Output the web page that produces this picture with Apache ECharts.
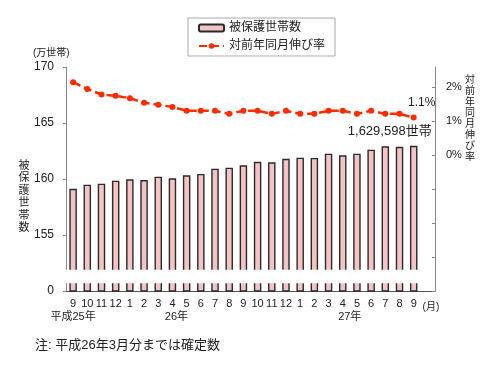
<!DOCTYPE html>
<html><head><meta charset="utf-8">
<script src="https://cdn.jsdelivr.net/npm/echarts@6/dist/echarts.min.js"></script>
<style>html,body{margin:0;padding:0;background:#fff}#c{width:500px;height:365px}</style>
</head><body><div id="c"></div>
<script>
// Categories (months), last slot holds the unit label
const months = ['9','10','11','12','1','2','3','4','5','6','7','8','9','10','11','12','1','2','3','4','5','6','7','8','9','(月)'];
const yearLabels = {0: '平成25年', 7: '26年', 19: '27年'};
// 被保護世帯数 (万世帯)
const households = [159.13,159.49,159.58,159.85,159.97,159.91,160.21,160.06,160.33,160.45,160.92,161.01,161.22,161.54,161.49,161.81,161.90,161.88,162.26,162.12,162.26,162.62,162.92,162.88,162.96,null];
// 対前年同月伸び率 (%)
const growth = [2.14,1.94,1.78,1.74,1.67,1.54,1.48,1.41,1.30,1.30,1.30,1.21,1.30,1.30,1.21,1.30,1.21,1.21,1.30,1.30,1.21,1.30,1.21,1.21,1.10,null];
const leftTickLabels = {150: '0', 155: '155', 160: '160', 165: '165', 170: '170'};
const rightTickLabels = {0: '0%', 1: '1%', 2: '2%'};
const leftTitle = '被保護世帯数';
const rightTitle = '対前年同月伸び率';
const lastBarLabel = '1,629,598世帯';
const lastLineLabel = '1.1%';

const FONT = '"Liberation Sans", "Noto Sans CJK JP", sans-serif';
const TXT = '#222';
const lastIdx = 24;

const chart = echarts.init(document.getElementById('c'), null, {renderer: 'canvas'});
const barData = households.map((v, i) => i === lastIdx ? {
  value: v,
  label: {show: true, position: 'top', formatter: lastBarLabel, offset: [-24, -3],
          fontSize: 13, color: TXT, fontFamily: FONT}
} : v);
const lineData = growth.map((v, i) => i === lastIdx ? {
  value: v,
  label: {show: true, position: 'top', formatter: lastLineLabel, offset: [8, -1],
          fontSize: 12, color: TXT, fontFamily: FONT}
} : v);

function verticalText(str, cx, top, step, size, idp) {
  return Array.from(str).map((ch, k) => ({
    type: 'text', id: idp + k, x: cx, y: top + k * step,
    style: {text: ch, fontSize: size, fill: TXT, fontFamily: FONT, align: 'center', verticalAlign: 'middle'}
  }));
}

const baseGraphics = [
  {type: 'text', id: 'unit', left: 33, top: 48, style: {text: '(万世帯)', fontSize: 10, fill: TXT, fontFamily: FONT}},
  {type: 'text', id: 'note', left: 35, top: 339, style: {text: '注: 平成26年3月分までは確定数', fontSize: 13, fill: TXT, fontFamily: FONT}}
].concat(verticalText(leftTitle, 24, 166, 12.4, 11, 'lt'))
 .concat(verticalText(rightTitle, 470, 80, 11, 10, 'rt'));

const option = {
  animation: false,
  textStyle: {fontFamily: FONT},
  grid: {left: 66, right: 65, top: 67, bottom: 74},
  legend: {
    orient: 'vertical', left: 188, top: 18,
    padding: [4, 10, 4, 10], itemGap: 6,
    itemWidth: 25, itemHeight: 7,
    borderColor: '#aaa', borderWidth: 1,
    textStyle: {fontSize: 12, color: TXT, fontFamily: FONT},
    data: ['被保護世帯数', '対前年同月伸び率']
  },
  xAxis: {
    type: 'category', data: months,
    axisLine: {onZero: false, lineStyle: {color: '#555', width: 1}},
    axisTick: {show: false},
    axisLabel: {
      interval: 0, margin: 6, color: TXT, fontSize: 11,
      formatter: (v, i) => {
        if (i === months.length - 1) return '{u|' + v + '}';
        const y = yearLabels[i];
        if (!y) return '{m|' + v + '}';
        const key = i === 0 ? 'y0' : (i === 7 ? 'y1' : 'y2');
        return '{m|' + v + '}\n{' + key + '|' + y + '}';
      },
      rich: {
        m: {fontSize: 11, color: TXT, lineHeight: 13, fontFamily: FONT},
        u: {fontSize: 10, color: TXT, lineHeight: 13, padding: [8, 0, 0, 6], fontFamily: FONT},
        y0: {fontSize: 11, color: TXT, lineHeight: 13, fontFamily: FONT},
        y1: {fontSize: 11, color: TXT, lineHeight: 13, padding: [0, 0, 0, 8], fontFamily: FONT},
        y2: {fontSize: 11, color: TXT, lineHeight: 13, padding: [0, 0, 0, 14], fontFamily: FONT}
      }
    }
  },
  yAxis: [{
    type: 'value', min: 150, max: 170, interval: 5,
    axisLine: {show: true, lineStyle: {color: '#888'}},
    axisTick: {show: true, length: 3, lineStyle: {color: '#888'}},
    splitLine: {show: false},
    axisLabel: {color: TXT, fontSize: 12, margin: 12,
                formatter: v => leftTickLabels[v] !== undefined ? leftTickLabels[v] : ''}
  }, {
    type: 'value', min: -4, max: 2.588, interval: 1, position: 'right',
    axisLine: {show: true, onZero: false, lineStyle: {color: '#888'}},
    axisTick: {show: true, inside: true, length: 3, lineStyle: {color: '#888'},
               customValues: [-4, -3, -2, -1, 0, 1, 2]},
    splitLine: {show: false},
    axisLabel: {color: TXT, fontSize: 11, margin: 11, customValues: [0, 1, 2],
                formatter: v => rightTickLabels[Math.round(v * 1000) / 1000] || ''}
  }],
  series: [{
    name: '被保護世帯数', type: 'bar', yAxisIndex: 0, data: barData,
    barWidth: 7.5,
    itemStyle: {color: '#f4c3c3', borderColor: '#2a2a2a', borderWidth: 1.4},
    z: 2
  }, {
    name: '対前年同月伸び率', type: 'line', yAxisIndex: 1, data: lineData,
    symbol: 'circle', symbolSize: 6,
    itemStyle: {color: '#ff2a00'},
    lineStyle: {color: '#ff2a00', width: 2.5, type: [8, 4]},
    z: 3
  }],
  graphic: baseGraphics
};
chart.setOption(option);

// axis-break gap across the bars (visual break between 155 and 0)
const yTop = chart.convertToPixel({yAxisIndex: 0}, 151.9);
const yBot = chart.convertToPixel({yAxisIndex: 0}, 150.7);
const xL = chart.convertToPixel({xAxisIndex: 0}, 0) - 10;
const xR = chart.convertToPixel({xAxisIndex: 0}, months.length - 1);
chart.setOption({graphic: baseGraphics.concat([{
  type: 'rect', id: 'breakgap', z: 100,
  shape: {x: xL + 2, y: yTop, width: xR - xL, height: yBot - yTop},
  style: {fill: '#fff'}
}])});
</script>
</body></html>
